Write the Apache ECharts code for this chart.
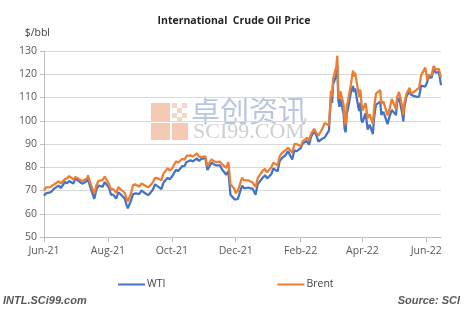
<!DOCTYPE html>
<html>
<head>
<meta charset="utf-8">
<style>
  html, body { margin: 0; padding: 0; background: #ffffff; }
  #chart { width: 468px; height: 322px; }
</style>
<script src="https://cdn.jsdelivr.net/npm/echarts@6/dist/echarts.min.js"></script>
</head>
<body>
<div id="chart"></div>
<script>
// Trading dates (2021-06 to 2022-06)
const dates = [
  '2021-06-01','2021-06-03','2021-06-07','2021-06-09','2021-06-11','2021-06-15','2021-06-17','2021-06-21','2021-06-23','2021-06-25','2021-06-29',
  '2021-07-01','2021-07-06','2021-07-08','2021-07-12','2021-07-13','2021-07-15','2021-07-19','2021-07-21','2021-07-23','2021-07-27','2021-07-29',
  '2021-08-02','2021-08-04','2021-08-06','2021-08-09','2021-08-11','2021-08-13','2021-08-17','2021-08-19','2021-08-20','2021-08-23','2021-08-25','2021-08-27','2021-08-31',
  '2021-09-02','2021-09-07','2021-09-09','2021-09-13','2021-09-15','2021-09-17','2021-09-21','2021-09-23','2021-09-27','2021-09-29',
  '2021-10-01','2021-10-05','2021-10-07','2021-10-11','2021-10-13','2021-10-15','2021-10-19','2021-10-21','2021-10-25','2021-10-27','2021-10-29',
  '2021-11-02','2021-11-04','2021-11-08','2021-11-10','2021-11-12','2021-11-16','2021-11-18','2021-11-22','2021-11-24','2021-11-26','2021-11-30',
  '2021-12-01','2021-12-03','2021-12-07','2021-12-09','2021-12-13','2021-12-15','2021-12-17','2021-12-20','2021-12-22','2021-12-27','2021-12-29','2021-12-31',
  '2022-01-04','2022-01-06','2022-01-10','2022-01-12','2022-01-14','2022-01-18','2022-01-20','2022-01-24','2022-01-26','2022-01-28',
  '2022-02-01','2022-02-03','2022-02-07','2022-02-09','2022-02-11','2022-02-14','2022-02-16','2022-02-18','2022-02-22','2022-02-24','2022-02-28',
  '2022-03-01','2022-03-02','2022-03-03','2022-03-04','2022-03-07','2022-03-08','2022-03-09','2022-03-10','2022-03-11','2022-03-14','2022-03-15','2022-03-16','2022-03-17','2022-03-18','2022-03-21','2022-03-23','2022-03-24','2022-03-25','2022-03-28','2022-03-29','2022-03-30','2022-03-31',
  '2022-04-01','2022-04-04','2022-04-06','2022-04-07','2022-04-08','2022-04-11','2022-04-12','2022-04-13','2022-04-14','2022-04-18','2022-04-19','2022-04-21','2022-04-25','2022-04-27','2022-04-29',
  '2022-05-03','2022-05-04','2022-05-06','2022-05-09','2022-05-10','2022-05-11','2022-05-13','2022-05-16','2022-05-17','2022-05-19','2022-05-23','2022-05-25','2022-05-27','2022-05-31',
  '2022-06-02','2022-06-03','2022-06-06','2022-06-08','2022-06-10','2022-06-13','2022-06-15'
];

// WTI, $/bbl
const wti = [
  67.72,68.81,69.23,69.96,70.91,72.12,71.04,73.66,73.08,74.05,72.98,
  75.23,73.37,72.94,74.10,75.25,71.65,66.42,70.30,72.07,71.65,73.62,
  71.26,68.15,68.28,66.48,69.25,68.44,66.59,63.50,62.32,65.64,68.36,68.74,68.50,
  69.99,68.35,68.14,70.45,72.61,71.97,70.56,73.30,75.45,74.83,
  75.88,78.93,78.30,80.52,80.44,82.28,82.96,82.50,83.76,82.66,83.57,
  83.91,78.81,81.93,81.34,80.79,80.76,79.01,76.75,78.39,68.15,66.18,
  65.57,66.26,72.05,70.94,71.29,70.87,70.86,68.23,72.76,75.57,76.56,75.21,
  76.99,79.46,78.23,82.64,83.82,85.43,86.90,83.31,87.35,86.82,
  88.20,90.27,91.32,89.66,93.10,95.46,93.66,91.07,92.35,92.81,95.72,
  103.41,110.60,107.67,115.68,119.40,123.70,108.70,106.02,109.33,103.01,96.44,95.04,102.98,104.70,112.12,114.93,112.34,113.90,105.96,104.24,107.82,100.28,
  99.27,103.28,96.23,96.03,98.26,94.29,100.60,104.25,106.95,108.21,102.56,103.79,98.54,102.02,104.69,
  102.41,107.81,109.77,103.09,99.76,105.71,110.49,112.80,111.40,110.80,110.29,110.33,115.07,114.67,
  116.87,118.87,118.50,122.11,120.67,120.93,115.31
];

// Brent, $/bbl
const brent = [
  70.25,71.31,71.49,72.22,72.69,73.99,73.08,74.90,75.19,76.18,74.76,
  75.84,74.53,74.12,75.16,76.49,73.47,68.62,72.23,74.10,74.48,76.05,
  72.89,70.38,70.70,69.04,71.44,70.59,69.03,66.45,65.18,68.75,72.25,72.70,71.63,
  73.03,71.69,71.45,73.51,75.46,75.34,74.36,77.25,79.53,78.64,
  79.28,82.56,81.95,83.65,83.18,84.86,85.08,84.61,85.99,84.58,84.38,
  84.72,80.54,83.43,82.64,82.17,82.43,81.24,79.70,82.25,72.72,70.57,
  68.87,69.88,75.44,74.42,74.39,73.88,73.52,71.52,75.29,78.60,79.23,77.78,
  80.00,81.99,80.87,84.67,86.06,87.51,88.38,86.27,89.96,90.03,
  89.16,91.11,92.69,91.55,94.44,96.48,94.81,93.54,96.84,99.08,97.97,
  104.97,112.93,110.46,118.11,123.21,127.98,111.14,109.33,112.67,106.90,99.91,98.02,106.64,107.93,115.62,121.60,119.03,120.65,112.48,110.23,113.45,107.91,
  104.39,107.53,101.07,100.58,102.78,98.48,104.64,108.78,111.70,113.16,107.25,108.33,102.32,105.32,109.34,
  104.97,110.14,112.39,105.94,102.46,107.51,111.55,114.24,111.93,112.04,113.42,114.03,119.43,122.84,
  117.61,119.72,119.51,123.58,122.01,122.27,118.51
];

// Month starts that carry a tick and a label on the date axis
const tickDates = ['2021-06-01','2021-08-01','2021-10-01','2021-12-01','2022-02-01','2022-04-01','2022-06-01'];
const monthNames = ['Jan','Feb','Mar','Apr','May','Jun','Jul','Aug','Sep','Oct','Nov','Dec'];

function toMs(s) {
  const p = s.split('-').map(Number);
  return Date.UTC(p[0], p[1] - 1, p[2]);
}
function fmtMonth(ms) {
  const d = new Date(ms);
  return monthNames[d.getUTCMonth()] + '-' + String(d.getUTCFullYear()).slice(2);
}

const tickMs = tickDates.map(toMs);
const wtiData = dates.map((d, i) => [toMs(d), wti[i]]);
const brentData = dates.map((d, i) => [toMs(d), brent[i]]);

const axisFont = { fontFamily: 'Open Sans', fontSize: 10.5, color: '#595959' };

const chart = echarts.init(document.getElementById('chart'), null, { renderer: 'canvas' });
chart.setOption({
  backgroundColor: '#ffffff',
  animation: false,
  title: {
    text: 'International  Crude Oil Price',
    left: 'center',
    top: 11,
    textStyle: { fontFamily: 'Open Sans', fontSize: 10.5, fontWeight: 'bold', color: '#262626' }
  },
  grid: { left: 44, right: 27, top: 51, bottom: 85, containLabel: false },
  legend: {
    left: 113,
    top: 274,
    itemGap: 112,
    itemWidth: 27,
    itemHeight: 10,
    icon: 'path://M0,4 L27,4 L27,6 L0,6 Z',
    textStyle: { fontFamily: 'Open Sans', fontSize: 10.5, color: '#404040', padding: [0, 0, 0, -3] },
    data: ['WTI', 'Brent']
  },
  xAxis: {
    type: 'value',
    min: toMs('2021-06-01'),
    max: toMs('2022-06-15'),
    axisLine: { show: true, lineStyle: { color: '#bfbfbf', width: 1 } },
    axisTick: { show: true, customValues: tickMs, length: 5, lineStyle: { color: '#bfbfbf' } },
    axisLabel: {
      customValues: tickMs,
      formatter: (v) => fmtMonth(v),
      margin: 9,
      showMinLabel: true,
      showMaxLabel: true,
      hideOverlap: false,
      ...axisFont
    },
    splitLine: { show: false }
  },
  yAxis: {
    type: 'value',
    min: 50,
    max: 130,
    interval: 10,
    name: '$/bbl',
    nameLocation: 'end',
    nameGap: 12,
    nameTextStyle: { fontFamily: 'Open Sans', fontSize: 10.5, color: '#404040', align: 'right', padding: [0, -6, 0, 0] },
    axisLine: { show: true, lineStyle: { color: '#bfbfbf', width: 1 } },
    axisTick: { show: true, length: 4, lineStyle: { color: '#bfbfbf' } },
    axisLabel: { margin: 7, ...axisFont },
    splitLine: { show: true, lineStyle: { color: '#d9d9d9', width: 1 } }
  },
  series: [
    {
      name: 'WTI',
      type: 'line',
      data: wtiData,
      showSymbol: false,
      symbol: 'none',
      color: '#4472c4',
      lineStyle: { width: 2.25, color: '#4472c4' },
      z: 3
    },
    {
      name: 'Brent',
      type: 'line',
      data: brentData,
      showSymbol: false,
      symbol: 'none',
      color: '#ed7d31',
      lineStyle: { width: 2.25, color: '#ed7d31' },
      z: 4
    }
  ],
  graphic: [
    // publisher mark behind the plot
    {
      type: 'group', left: 151, top: 103, z: 0, silent: true,
      children: [
        { type: 'rect', shape: { x: 0, y: 0, width: 19, height: 18 }, style: { fill: '#f6c9b4' } },
        { type: 'rect', shape: { x: 0, y: 20, width: 19, height: 17 }, style: { fill: '#f6c9b4' } },
        { type: 'rect', shape: { x: 21, y: 20, width: 16, height: 17 }, style: { fill: '#f6c9b4' } },
        { type: 'rect', shape: { x: 21, y: 0, width: 5, height: 5 }, style: { fill: '#f8d6c6' } },
        { type: 'rect', shape: { x: 31, y: 0, width: 5, height: 5 }, style: { fill: '#f8d6c6' } },
        { type: 'rect', shape: { x: 26, y: 5, width: 5, height: 5 }, style: { fill: '#f8d6c6' } },
        { type: 'rect', shape: { x: 21, y: 10, width: 5, height: 5 }, style: { fill: '#f8d6c6' } },
        { type: 'rect', shape: { x: 31, y: 10, width: 5, height: 5 }, style: { fill: '#f8d6c6' } },
        { type: 'rect', shape: { x: 26, y: 14, width: 5, height: 4 }, style: { fill: '#f8d6c6' } }
      ]
    },
    {
      type: 'text', left: 191, top: 96, z: 0, silent: true,
      style: { text: '卓创资讯', font: '29px "Noto Sans CJK SC"', fill: '#b9c7de' }
    },
    {
      type: 'text', left: 193, top: 121, z: 0, silent: true,
      style: { text: 'SCI99.COM', font: '22px "Liberation Serif"', fill: '#cfcfcf' }
    },
    // footer texts
    {
      type: 'text', left: 3, top: 295,
      style: { text: 'INTL.SCi99.com', font: 'italic bold 11px "Liberation Sans"', fill: '#595959' }
    },
    {
      type: 'text', right: 8, top: 295,
      style: { text: 'Source: SCI', font: 'italic bold 11px "Liberation Sans"', fill: '#595959' }
    }
  ]
});
</script>
</body>
</html>
